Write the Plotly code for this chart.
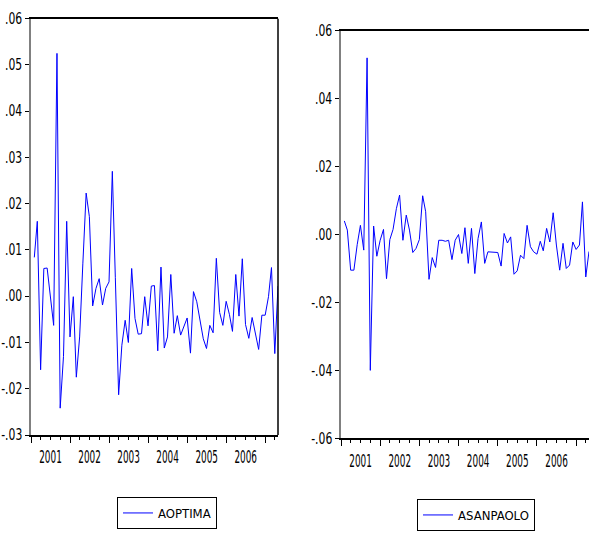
import plotly.graph_objects as go
import pandas as pd

# ---------------- data ----------------
dates = pd.date_range("2001-02-01", periods=76, freq="MS")

aoptima = [
    0.0084, 0.0162, -0.0159, 0.0060, 0.0061, -0.0003, -0.0063, 0.0525, -0.0242, -0.0130,
    0.0162, -0.0088, -0.0001, -0.0175, -0.0088, 0.0070, 0.0223, 0.0172, -0.0021, 0.0017,
    0.0038, -0.0019, 0.0017, 0.0031, 0.0270, 0.0040, -0.0213, -0.0106, -0.0052, -0.0100,
    0.0060, -0.0048, -0.0082, -0.0081, -0.0001, -0.0064, 0.0022, 0.0023, -0.0118, 0.0063,
    -0.0112, -0.0088, 0.0047, -0.0080, -0.0042, -0.0084, -0.0065, -0.0047, -0.0123, 0.0010,
    -0.0012, -0.0053, -0.0092, -0.0113, -0.0063, -0.0079, 0.0082, -0.0035, -0.0063, -0.0011,
    -0.0040, -0.0076, 0.0047, -0.0043, 0.0081, -0.0061, -0.0091, -0.0046, -0.0077, -0.0115,
    -0.0041, -0.0041, -0.0001, 0.0062, -0.0124, 0.0022,
]

asanpaolo = [
    0.0040, 0.0013, -0.0105, -0.0105, -0.0030, 0.0027, -0.0046, 0.0520, -0.0400, 0.0025,
    -0.0064, -0.0017, 0.0015, -0.0130, -0.0015, 0.0015, 0.0076, 0.0116, -0.0017, 0.0057,
    0.0013, -0.0053, -0.0041, -0.0015, 0.0114, 0.0067, -0.0132, -0.0068, -0.0097, -0.0017,
    -0.0017, -0.0020, -0.0017, -0.0074, -0.0017, 0.0000, -0.0056, 0.0020, -0.0085, 0.0018,
    -0.0115, -0.0012, 0.0037, -0.0085, -0.0051, -0.0051, -0.0051, -0.0053, -0.0093, 0.0003,
    -0.0025, -0.0007, -0.0117, -0.0107, -0.0061, -0.0071, 0.0027, -0.0036, -0.0051, -0.0058,
    -0.0020, -0.0048, 0.0018, -0.0022, 0.0064, -0.0031, -0.0105, -0.0026, -0.0100, -0.0090,
    -0.0022, -0.0044, -0.0031, 0.0096, -0.0125, -0.0050,
]

left_tickvals = [0.06, 0.05, 0.04, 0.03, 0.02, 0.01, 0.00, -0.01, -0.02, -0.03]
left_ticktext = [".06", ".05", ".04", ".03", ".02", ".01", ".00", "-.01", "-.02", "-.03"]
right_tickvals = [0.06, 0.04, 0.02, 0.00, -0.02, -0.04, -0.06]
right_ticktext = [".06", ".04", ".02", ".00", "-.02", "-.04", "-.06"]

# ---------------- layout ----------------
W, H = 589, 535
FONT = "DejaVu Sans Condensed, Liberation Sans, sans-serif"
BLUE = "#0000ff"


def px_x(p):
    return p / W


def px_y(p):
    return (H - p) / H


fig = go.Figure()
fig.add_trace(go.Scatter(x=dates, y=aoptima, mode="lines", name="AOPTIMA",
                         line=dict(color=BLUE, width=1), xaxis="x", yaxis="y",
                         legend="legend", hoverinfo="skip"))
fig.add_trace(go.Scatter(x=dates, y=asanpaolo, mode="lines", name="ASANPAOLO",
                         line=dict(color=BLUE, width=1), xaxis="x2", yaxis="y2",
                         legend="legend2", hoverinfo="skip"))


def xaxis(domain, anchor):
    return dict(
        domain=domain, anchor=anchor, type="date",
        range=["2001-01-01", "2007-05-01"],
        tick0="2001-01-01", dtick="M12", tickformat="%Y", ticklabelmode="period",
        tickangle=0,
        ticks="outside", ticklen=6, tickwidth=1, tickcolor="black",
        minor=dict(dtick="M3", ticks="outside", ticklen=3, tickwidth=1,
                   tickcolor="black", showgrid=False),
        showline=True, linecolor="black", linewidth=2, mirror=True,
        showgrid=False, zeroline=False,
        tickfont=dict(family=FONT, size=17, color="black"), automargin=False,
        fixedrange=True,
    )


def yaxis(domain, anchor, rng, vals, text):
    return dict(
        domain=domain, anchor=anchor, range=rng,
        tickmode="array", tickvals=vals, ticktext=text,
        ticks="outside", ticklen=4, tickwidth=1, tickcolor="black",
        showline=True, linecolor="#808080", linewidth=1.5,
        showgrid=False, zeroline=False,
        tickfont=dict(family=FONT, size=15, color="black"), automargin=False,
        fixedrange=True,
    )


fig.update_layout(
    width=W, height=H,
    margin=dict(l=0, r=0, t=0, b=0),
    paper_bgcolor="white", plot_bgcolor="white",
    xaxis=xaxis([px_x(31), px_x(278)], "y"),
    yaxis=yaxis([px_y(435), px_y(18.7)], "x", [-0.03, 0.06], left_tickvals, left_ticktext),
    xaxis2=xaxis([px_x(341), 1.0], "y2"),
    yaxis2=yaxis([px_y(438.3), px_y(30.7)], "x2", [-0.06, 0.06], right_tickvals, right_ticktext),
    showlegend=True,
    legend=dict(x=px_x(117), y=px_y(497), xanchor="left", yanchor="top",
                bordercolor="black", borderwidth=1, bgcolor="white",
                font=dict(family=FONT, size=13, color="black"), itemwidth=30),
    legend2=dict(x=px_x(417), y=px_y(499), xanchor="left", yanchor="top",
                 bordercolor="black", borderwidth=1, bgcolor="white",
                 font=dict(family=FONT, size=13, color="black"), itemwidth=30),
    shapes=[
        dict(type="line", xref="x domain", yref="y domain", x0=1, x1=1, y0=0, y1=1,
             line=dict(color="black", width=1.5)),
    ],
)

# narrow the tick label glyphs (the reference uses a condensed typeface)
squeeze_js = """
function sq(sel, f){
  document.querySelectorAll(sel).forEach(function(t){
    var w = t.getComputedTextLength();
    t.setAttribute('lengthAdjust', 'spacingAndGlyphs');
    t.setAttribute('textLength', (w * f).toFixed(2));
  });
}
sq('.xtick text', 0.58);
sq('.x2tick text', 0.58);
sq('.ytick text', 0.80);
sq('.y2tick text', 0.80);
document.body.style.margin = '0';
document.body.style.overflow = 'hidden';
"""

fig.write_html("out.html", config={"displayModeBar": False}, post_script=squeeze_js)
